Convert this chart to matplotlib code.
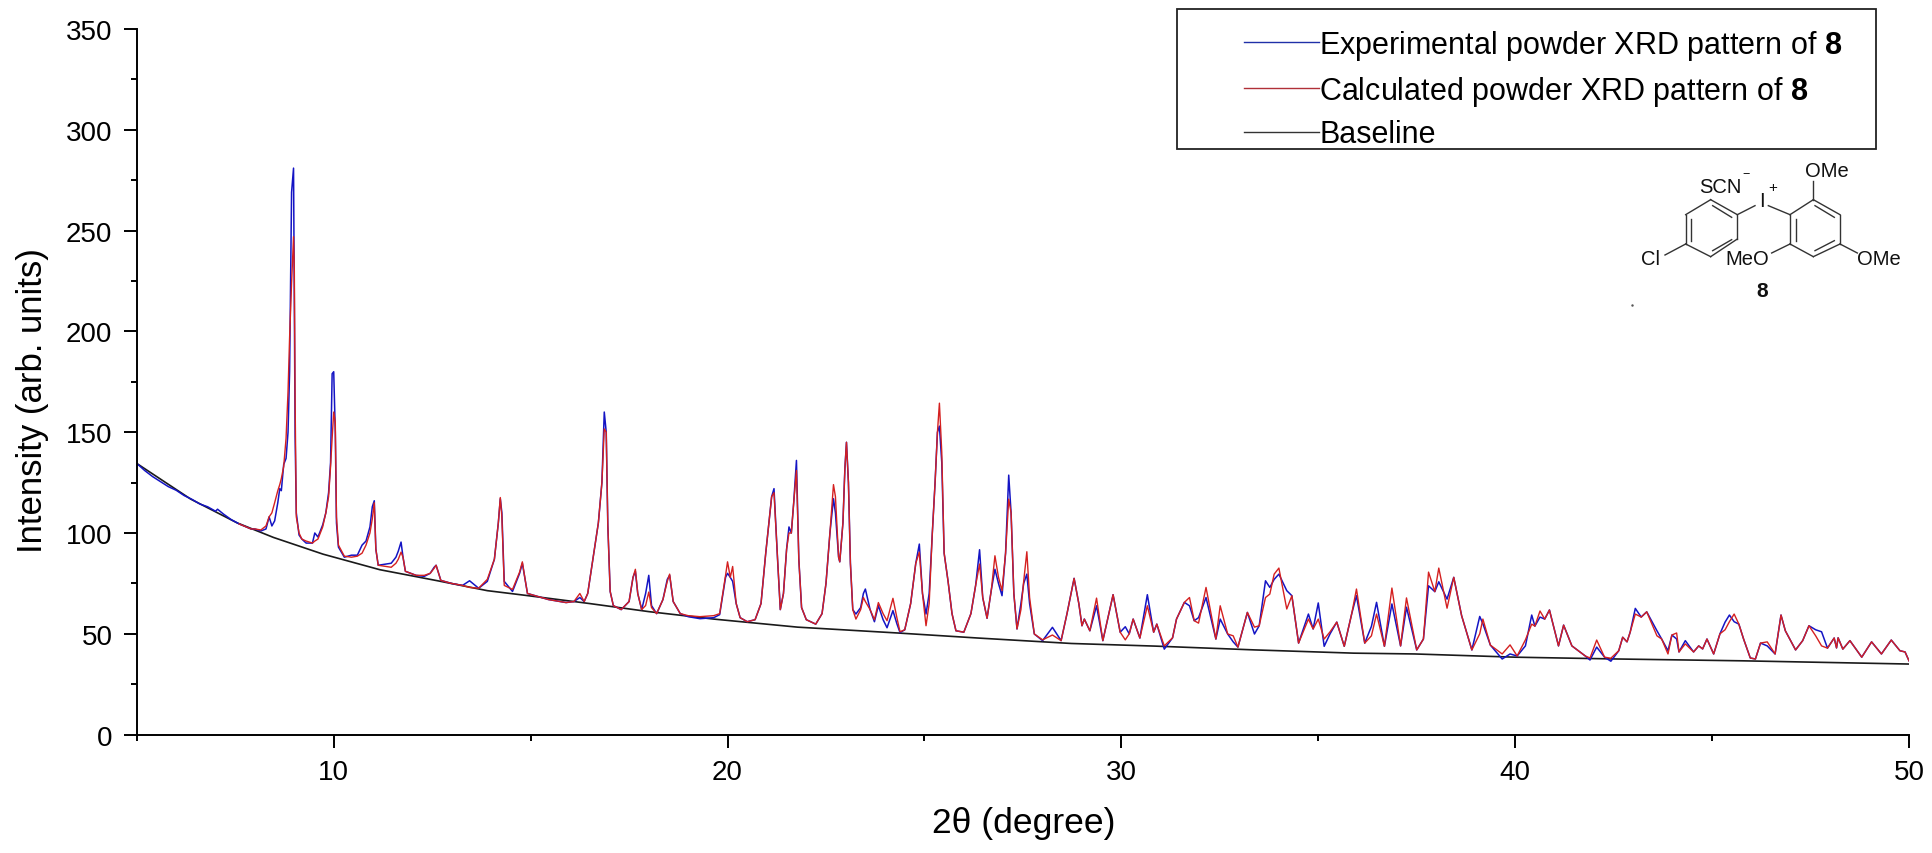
import matplotlib
matplotlib.use('Agg')
import matplotlib.pyplot as plt
from matplotlib.lines import Line2D
from matplotlib.patches import Rectangle

plt.rcParams['font.family'] = ['Liberation Sans', 'DejaVu Sans']
plt.rcParams['mathtext.fontset'] = 'custom'
plt.rcParams['mathtext.bf'] = 'Liberation Sans:bold'
plt.rcParams['mathtext.rm'] = 'Liberation Sans'

# only the experimental trace is visible here, it sits on the baseline
start_theta = [5.0, 5.2, 5.4, 5.6, 5.8, 6.0, 6.2, 6.4, 6.6, 6.8, 7.0, 7.05, 7.2, 7.4, 7.6]
start_exp = [134.5, 131, 128, 125.5, 123, 121.2, 118.6, 116.7, 114.4, 113, 110.8, 111.8, 109.4, 106.6, 104.5]

theta = [7.6, 7.9, 8.0, 8.15, 8.28, 8.36, 8.43, 8.5, 8.58, 8.63, 8.67, 8.73, 8.79, 8.84, 8.88, 8.93, 8.98, 9.0, 9.02, 9.05,
         9.12, 9.19, 9.3, 9.46, 9.52, 9.6, 9.72, 9.8, 9.87, 9.92, 9.96, 10.0, 10.04, 10.07, 10.12, 10.27, 10.45, 10.6, 10.72, 10.82,
         10.92, 10.98, 11.03, 11.07, 11.13, 11.3, 11.46, 11.58, 11.64, 11.71, 11.76, 11.82, 12.09, 12.3, 12.45, 12.55, 12.6, 12.72, 12.99, 13.27,
         13.45, 13.68, 13.9, 14.08, 14.18, 14.23, 14.27, 14.33, 14.54, 14.72, 14.79, 14.86, 14.92, 15.45, 15.9, 16.1, 16.25, 16.36, 16.45, 16.62,
         16.72, 16.81, 16.87, 16.92, 16.96, 17.02, 17.1, 17.3, 17.5, 17.6, 17.66, 17.72, 17.82, 17.92, 18.0, 18.07, 18.2, 18.36, 18.47, 18.53,
         18.62, 18.8, 19.0, 19.3, 19.65, 19.8, 19.95, 20.0, 20.07, 20.13, 20.22, 20.32, 20.5, 20.7, 20.85, 20.97, 21.05, 21.12, 21.18, 21.27,
         21.34, 21.42, 21.5, 21.56, 21.62, 21.68, 21.75, 21.81, 21.88, 22.0, 22.24, 22.4, 22.5, 22.6, 22.69, 22.74, 22.82, 22.85, 22.93, 22.98,
         23.02, 23.07, 23.12, 23.18, 23.26, 23.38, 23.45, 23.5, 23.62, 23.73, 23.83, 23.95, 24.05, 24.2, 24.3, 24.38, 24.5, 24.65, 24.78, 24.87,
         24.95, 25.04, 25.12, 25.2, 25.27, 25.33, 25.38, 25.44, 25.5, 25.6, 25.7, 25.8, 26.0, 26.18, 26.3, 26.4, 26.48, 26.59, 26.7, 26.79,
         26.88, 26.97, 27.06, 27.14, 27.2, 27.27, 27.35, 27.45, 27.52, 27.6, 27.67, 27.79, 28.0, 28.25, 28.47, 28.62, 28.8, 28.92, 29.0, 29.06,
         29.2, 29.37, 29.53, 29.66, 29.79, 29.97, 30.1, 30.2, 30.3, 30.47, 30.66, 30.82, 30.9, 31.09, 31.3, 31.4, 31.6, 31.73, 31.85, 31.96,
         32.15, 32.4, 32.51, 32.7, 32.84, 32.96, 33.2, 33.38, 33.5, 33.66, 33.77, 33.88, 34.0, 34.2, 34.33, 34.5, 34.75, 34.87, 35.0, 35.15,
         35.3, 35.47, 35.66, 35.85, 35.97, 36.18, 36.35, 36.48, 36.68, 36.87, 37.09, 37.24, 37.5, 37.67, 37.8, 37.96, 38.06, 38.27, 38.44, 38.64,
         38.9, 39.1, 39.18, 39.37, 39.67, 39.87, 40.05, 40.26, 40.42, 40.5, 40.63, 40.75, 40.87, 41.1, 41.23, 41.44, 41.78, 41.9, 42.07, 42.27,
         42.43, 42.63, 42.73, 42.84, 42.92, 43.05, 43.2, 43.34, 43.6, 43.72, 43.88, 43.98, 44.1, 44.16, 44.32, 44.53, 44.66, 44.76, 44.87, 45.04,
         45.2, 45.33, 45.44, 45.56, 45.68, 45.8, 45.97, 46.1, 46.23, 46.4, 46.6, 46.75, 46.86, 47.12, 47.3, 47.46, 47.63, 47.78, 47.93, 48.1,
         48.16, 48.2, 48.32, 48.5, 48.8, 49.05, 49.3, 49.55, 49.77, 49.9, 50.0]

exp = [104.5, 102, 102, 101, 102, 108, 103.5, 106, 115, 122, 121, 134, 137, 150, 180, 269, 281, 215, 148, 110,
       99, 97, 95, 95, 100, 98, 104, 110, 120, 135, 179, 180, 150, 105, 93, 88, 89, 89, 94, 96,
       103, 113, 116, 92, 84, 84.5, 85, 88, 91, 95.5, 88, 81, 79, 78.5, 80, 83, 84, 76.5, 75, 74,
       76.3, 72.6, 76, 87, 105, 117, 110, 76, 71, 80, 85, 77, 70, 67, 65.5, 66, 68, 66, 70, 92,
       105, 125, 160, 150, 104, 71, 64, 62, 66, 78, 81, 70, 62, 70, 79, 64, 60, 67, 77, 79,
       66, 60, 58.5, 57.5, 58, 59.5, 78, 80, 78, 76, 65, 58, 56, 57, 65, 90, 105, 118, 122, 87,
       62, 70, 92, 103, 100, 115, 136, 87, 63, 57, 54.8, 60, 75, 100, 117, 110, 88, 85.7, 105, 132,
       145, 125, 85, 62, 59.8, 63, 70, 72.2, 62, 56, 64, 57, 53, 61.5, 55, 50.6, 52, 65, 85, 94.5,
       70, 59.8, 70, 100, 125, 150, 153, 135, 90, 76, 60, 51.5, 50.8, 60, 74, 91.7, 68, 57.7, 72, 82,
       75, 68.9, 90, 128.7, 110, 70, 52.4, 65, 75, 79.6, 65, 49.9, 46.6, 53.2, 46.6, 60, 77.5, 65, 54, 57.3,
       51.5, 63.9, 46.6, 58, 69.4, 50.8, 53.5, 50, 57.3, 47.9, 69.4, 50.8, 54.8, 42.4, 48, 57.3, 65.6, 63.9, 56.5, 58,
       68, 47.4, 57.3, 49.9, 46, 43.4, 60.6, 49.9, 54, 76.3, 73, 77, 79.6, 71.4, 68.9, 45.4, 59.8, 52.4, 65.3, 43.8,
       50, 55.8, 43.8, 60, 68.9, 45.4, 53.7, 65.6, 43.8, 64.8, 44, 63.2, 42, 47.4, 73.8, 70.9, 75.8, 67.2, 78, 59,
       42, 58.6, 55, 44.4, 37.5, 40, 39, 44, 59.3, 53.8, 58.3, 57.3, 61.8, 44, 54.3, 44, 39, 37, 43.4, 38.4,
       36.4, 41.6, 48.3, 46, 50.8, 62.6, 58.3, 60.9, 51.5, 47.4, 41.6, 49.4, 47.4, 41, 46.6, 41, 44, 42.5, 47.4, 40,
       50, 55.8, 59.3, 56, 54.8, 47.4, 38, 37.5, 45.4, 44, 40, 59.3, 51.5, 42, 46.6, 54, 52, 51, 42.9, 47.9,
       43, 48, 42.4, 46.6, 38.4, 46, 40, 46.9, 41.6, 41, 36.6]

calc = [104.5, 102, 102, 101.5, 103.5, 108, 110, 115, 121, 124, 127, 133, 147, 170, 197, 224, 247, 230, 165, 108,
        100, 97, 96, 95, 96, 97, 103, 110, 118, 133, 147, 160, 155, 108, 94, 88.5, 88, 88.5, 90, 94,
        100, 107, 115, 92, 84, 83.5, 83, 85, 87, 90.5, 88, 81, 79, 79, 80, 82.5, 84, 76.5, 75, 74,
        73, 72.6, 77, 87, 105, 117.6, 108, 74, 72, 80.6, 85.7, 77, 70, 67, 65.5, 66, 70, 66, 70, 92,
        105, 125, 151.6, 150, 104, 71, 64, 62, 66, 78, 82, 70, 62, 64, 70.7, 63, 60, 67, 76, 79.6,
        66, 60, 59, 58.5, 59, 60, 79, 85.7, 78, 83.4, 65, 58, 56, 57, 65, 90, 105, 118, 120, 87,
        62, 70, 92, 100, 100, 115, 131, 87, 63, 57, 54.8, 60, 75, 100, 124, 118, 88, 85.7, 105, 132,
        145, 125, 85, 62, 57.3, 62, 68, 66, 62, 57, 65.5, 60, 56.5, 67.6, 58, 51, 52, 65, 85, 90.5,
        70, 54, 65, 100, 125, 150, 164.4, 140, 90, 76, 60, 51.5, 50.8, 60, 74, 84.6, 68, 57.7, 72, 88.7,
        78, 71.4, 90, 116.8, 110, 70, 52.4, 62, 76, 90.7, 68, 49.9, 47, 49.4, 46.6, 60, 77.5, 65, 54, 57.3,
        51.5, 67.7, 46.6, 58, 69.4, 50.8, 47, 50, 57.3, 47.9, 63.9, 50.8, 54.8, 44, 48, 57.3, 65.6, 68, 56.5, 55.3,
        73, 47.4, 63.9, 49.9, 49, 43.4, 60.6, 53.3, 54, 68, 69.7, 79.6, 82.6, 62.3, 68.9, 45.4, 57.3, 52.4, 57.3, 47.4,
        51, 55.8, 43.8, 60, 72.2, 45.4, 49, 59.8, 43.8, 72.7, 44, 67.8, 42, 47.4, 80.6, 70.9, 82.6, 62.7, 78, 59,
        42, 50, 57.3, 44.4, 40, 44.5, 39, 47, 54.8, 53.8, 61.3, 57.3, 61.8, 44, 54.3, 44, 39, 38, 46.9, 38.4,
        37.9, 41.6, 48.3, 46, 50.8, 59.8, 58.3, 60.9, 49, 47.4, 40, 49.4, 50.4, 41, 45, 41, 44, 42.5, 47.4, 40,
        50, 52, 56, 59.8, 54.8, 47.4, 38, 37.5, 45.4, 46, 40, 59.3, 51.5, 42, 46.6, 54, 49, 44, 42.9, 47.9,
        43, 48, 42.4, 46.6, 38.4, 46, 40, 46.9, 41.6, 41, 36.6]

base_theta = [5.0, 6.37, 7.55, 8.47, 9.73, 11.17, 12.64, 13.9, 14.9, 16.5, 18.0, 19.65, 21.78, 24.32, 26.36, 28.73, 30.85,
              33.4, 35.9, 37.45, 40.0, 42.6, 45.77, 50.0]
base_y = [134.5, 116.8, 105, 97.8, 89.5, 81.8, 76.3, 71.4, 69, 65, 61, 57.3, 53.3, 50.4, 47.9, 45.2, 43.9,
          42, 40.4, 40, 38.4, 37.5, 36.6, 35]

x_major = [10, 20, 30, 40, 50]
x_minor = [5, 15, 25, 35, 45]
y_major = [0, 50, 100, 150, 200, 250, 300, 350]
y_minor = [25, 75, 125, 175, 225, 275, 325]

labels = ['Experimental powder XRD pattern of $\\mathbf{8}$',
          'Calculated powder XRD pattern of $\\mathbf{8}$',
          'Baseline']

W, H = 1932, 854
BLUE = '#1414c4'
RED = '#d42020'
BLACK = '#1a1a1a'

fig = plt.figure(figsize=(W / 100, H / 100), dpi=100)
ax = fig.add_axes([136.8 / W, 1 - 735.6 / H, (1909 - 136.8) / W, (735.6 - 30) / H])

ax.plot(base_theta, base_y, color=BLACK, lw=1.2)
ax.plot(start_theta + theta, start_exp + exp, color=BLUE, lw=1.1)
ax.plot(theta, calc, color=RED, lw=1.0)

ax.set_xlim(5, 50)
ax.set_ylim(0, 350)
ax.set_xticks(x_major)
ax.set_xticks(x_minor, minor=True)
ax.set_yticks(y_major)
ax.set_yticks(y_minor, minor=True)
ax.tick_params(axis='both', which='major', length=9.5, width=1.4, labelsize=20, pad=8)
ax.tick_params(axis='both', which='minor', length=4.5, width=1.4)
ax.spines['top'].set_visible(False)
ax.spines['right'].set_visible(False)
ax.spines['left'].set_linewidth(1.4)
ax.spines['bottom'].set_linewidth(1.4)

fig.text(1024 / W, 1 - 824 / H, '2θ (degree)', fontsize=25.5, ha='center', va='center')
fig.text(33 / W, 1 - 401 / H, 'Intensity (arb. units)', fontsize=25, rotation=90, ha='center', va='center')

# legend box
fig.add_artist(Rectangle((1177 / W, 1 - 150 / H), 699 / W, 140 / H, transform=fig.transFigure,
                         fill=False, ec='#222222', lw=1.3))
handles = [Line2D([], [], color='#2030a8', lw=1.0),
           Line2D([], [], color='#b03038', lw=1.0),
           Line2D([], [], color='#333333', lw=1.0)]
fig.legend(handles, labels, loc='upper left', bbox_to_anchor=(1235 / W, 1 - 20 / H), frameon=False,
           fontsize=22, handlelength=2.46, handletextpad=0.0, labelspacing=0.38, borderaxespad=0, borderpad=0.3)

# structure drawing, in pixel coordinates of the figure
mol = fig.add_axes([0, 0, 1, 1], facecolor='none')
mol.set_xlim(0, W)
mol.set_ylim(H, 0)
mol.axis('off')


def bond(x0, y0, x1, y1):
    mol.plot([1620 + x0 / 3, 1620 + x1 / 3], [150 + y0 / 3, 150 + y1 / 3], color='#333333', lw=1.0)


def atom(x, y, s, size=14.5, **kw):
    mol.text(1620 + x / 3, 150 + y / 3, s, ha='center', va='center', fontsize=size, color='#111111', **kw)


ring1 = [(272, 152), (352, 197), (352, 270), (272, 323), (197, 285), (197, 197), (272, 152)]
ring2 = [(580, 152), (660, 197), (660, 285), (580, 323), (510, 285), (510, 197), (580, 152)]
for ring in (ring1, ring2):
    for a, b in zip(ring[:-1], ring[1:]):
        bond(a[0], a[1], b[0], b[1])
for b in [(278, 170, 335, 205), (335, 272, 278, 305), (213, 275, 213, 210),
          (585, 170, 643, 205), (643, 275, 585, 305), (527, 275, 527, 210)]:
    bond(*b)
bond(352, 197, 405, 170)
bond(445, 170, 510, 197)
bond(580, 152, 580, 95)
bond(510, 285, 455, 312)
bond(660, 285, 712, 312)
bond(197, 285, 135, 318)
atom(622, 65, 'OMe')
atom(383, 330, 'MeO')
atom(777, 330, 'OMe')
atom(93, 330, 'Cl')
atom(302, 112, 'SCN')
atom(378, 75, '\u2212', size=9)
atom(458, 115, '+', size=11)
atom(425, 155, 'I')
atom(427, 425, '8', size=15, fontweight='bold')
mol.plot([1620 + 35 / 3], [150 + 467 / 3], marker='.', ms=1.5, color='#555555')

plt.savefig('out.png', dpi=100)
